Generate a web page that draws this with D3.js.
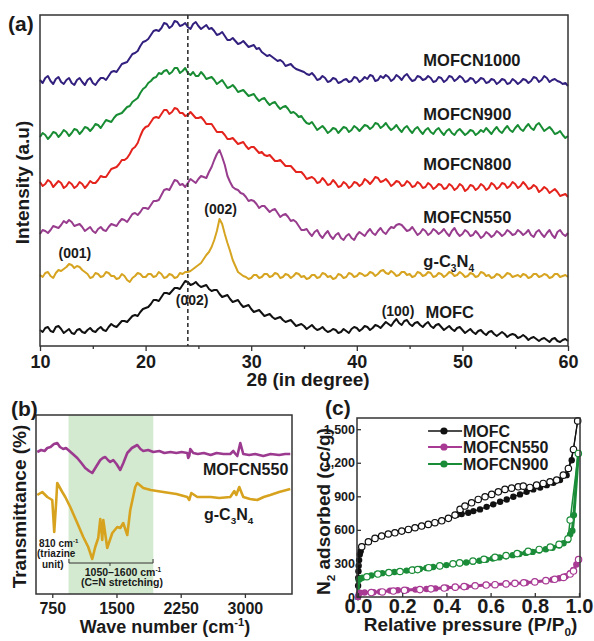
<!DOCTYPE html>
<html><head><meta charset="utf-8">
<script src="https://cdn.jsdelivr.net/npm/d3@7"></script>
<style>
body{margin:0;background:#fff}
svg{display:block}
text{font-family:"Liberation Sans",Arial,sans-serif;font-weight:bold;fill:#1a1a1a}
</style>
</head><body>
<svg id="chart" width="594" height="641"></svg>
<script>
// ---------------- DATA ----------------
// (a) XRD, 2theta grid every 0.25 degree from 10 to 60
const xrdTheta = d3.range(10, 60.001, 0.25);
const xrdTicks = [10, 20, 30, 40, 50, 60];
const xrdMinorTicks = [15, 25, 35, 45, 55];
const xrdMOFCN1000 = [266,263,268,270,265,262,267,269,264,262,266,268,263,261,266,268,264,261,266,268,263,261,265,268,268,266,270,274,275,274,278,282,283,284,288,292,293,295,300,304,305,307,311,315,316,315,318,323,322,318,320,325,324,320,321,323,319,317,322,324,320,317,319,321,317,318,315,311,312,314,310,306,306,308,305,302,303,305,302,299,300,301,297,298,294,292,290,291,289,287,285,286,284,280,281,282,279,277,276,275,274,272,271,273,270,266,267,270,268,264,265,268,267,263,264,266,267,264,265,269,268,264,266,269,267,271,270,265,266,270,268,271,269,265,267,271,269,266,270,272,268,265,266,270,269,266,267,270,268,264,265,269,268,264,266,270,269,265,267,270,268,264,265,268,267,263,265,268,267,263,264,267,266,262,264,267,266,262,263,267,265,262,264,267,266,263,265,269,268,264,266,270,268,264,266,267,265,264,262,263,260];
const xrdMOFCN900 = [209,213,211,207,210,214,213,209,212,216,214,210,213,217,216,212,215,219,218,215,218,222,221,218,222,226,225,224,228,231,232,233,236,239,240,244,246,248,253,257,259,263,265,268,269,273,272,275,276,272,274,278,278,273,275,278,273,271,274,270,270,274,271,267,268,269,266,262,264,266,262,258,259,261,258,254,255,256,253,250,251,252,248,245,247,248,244,241,243,244,240,237,239,240,237,233,234,232,229,230,226,223,222,224,220,216,218,220,217,213,215,218,217,213,216,219,218,214,216,220,218,215,218,221,220,217,219,223,222,218,220,223,219,216,218,221,217,214,218,220,216,213,217,219,215,212,216,218,214,212,216,218,214,211,215,217,213,211,215,217,214,211,213,216,215,211,213,216,214,218,215,212,216,219,215,213,217,220,216,214,218,221,217,215,219,222,218,216,221,223,219,215,217,219,216,212,213,215,211,208,210];
const xrdMOFCN800 = [164,160,162,166,164,159,162,165,163,158,160,164,162,158,160,164,162,158,161,165,163,163,166,170,169,169,173,177,178,179,182,186,186,188,192,197,199,203,210,216,219,220,224,228,229,228,232,236,236,232,234,238,237,233,233,230,231,234,231,228,228,229,226,222,222,222,218,214,214,214,211,207,207,208,205,202,203,204,200,197,199,199,196,193,194,191,190,191,188,185,185,186,183,180,180,180,177,174,174,174,171,167,168,169,167,163,164,168,165,161,162,166,163,159,160,164,162,158,160,164,163,160,162,167,165,162,165,169,168,164,165,167,164,160,162,165,164,160,161,165,163,159,160,164,162,158,159,163,161,157,159,162,161,157,158,162,160,156,158,162,160,155,157,161,160,156,158,162,160,156,158,163,161,157,159,163,162,158,160,164,162,158,160,164,161,157,158,161,159,154,156,159,157,153,155,157,154,150,151,152,149];
const xrdMOFCN550 = [112,116,115,113,116,120,119,118,121,125,123,126,124,120,121,122,119,115,117,119,115,113,117,119,116,115,119,122,121,120,124,127,126,124,128,132,133,131,134,138,138,137,141,145,145,146,151,156,157,156,161,166,165,161,162,159,163,167,165,163,167,170,169,168,174,179,186,192,196,189,181,170,164,159,157,156,153,152,149,145,146,145,142,138,140,140,137,134,136,137,133,129,131,132,129,125,126,124,120,116,116,117,113,110,114,116,111,108,112,115,110,107,111,113,108,106,110,112,108,106,111,114,112,110,114,117,113,111,115,118,114,112,116,119,118,121,122,121,118,115,116,119,115,111,113,117,115,111,113,117,115,112,114,117,113,110,115,118,113,110,112,116,114,110,111,115,112,108,110,114,112,109,111,115,113,110,112,116,114,111,112,116,114,111,113,116,111,109,114,116,112,109,113,116,111,108,114,116,112,110,113];
const xrdGC3N4 = [71,69,73,74,70,68,73,76,75,77,79,82,81,78,80,79,76,74,72,68,69,73,72,69,70,74,73,70,70,67,68,72,70,66,64,68,70,73,72,69,69,72,72,69,70,74,72,68,69,72,71,68,69,73,72,74,74,75,77,79,81,83,87,91,94,99,106,115,127,122,112,103,95,86,80,74,72,70,69,67,68,71,71,68,69,72,72,69,70,73,72,68,69,72,71,68,70,73,72,69,70,67,68,71,71,68,69,73,72,69,70,67,68,72,71,68,69,73,72,69,70,73,72,70,71,74,73,70,72,75,76,73,72,75,73,70,71,74,74,71,72,69,70,74,73,70,71,74,73,69,70,73,72,69,71,74,73,70,71,74,72,69,70,73,72,69,70,74,73,70,71,68,69,72,71,68,70,73,72,69,70,71,69,72,71,68,69,72,72,69,70,72,71,68,69,72,72,69,70,71,69];
const xrdMOFC = [16,14,18,19,15,14,19,20,17,13,15,17,13,12,16,17,14,13,16,18,15,14,17,19,16,15,19,22,20,19,22,25,25,24,27,30,31,30,34,37,38,39,42,46,46,45,49,53,53,52,55,58,58,57,61,65,64,61,62,64,61,59,60,61,57,55,56,56,52,49,50,51,47,44,45,46,42,39,40,41,37,34,35,36,33,30,31,32,29,27,28,29,26,24,25,26,23,20,21,22,20,17,19,21,18,16,17,19,16,14,15,17,16,13,14,17,15,13,17,19,18,15,17,20,19,16,18,21,20,18,21,24,22,20,24,27,23,21,25,26,22,20,23,24,21,19,22,24,20,18,21,22,19,16,18,20,17,15,18,19,16,13,15,17,14,12,15,16,13,11,14,15,12,10,12,14,12,9,11,12,11,8,9,11,9,6,8,9,7,5,7,8,6,4,7,8,5,4,6,7,5];
const xrdRefLine = 24.0;

// (b) FTIR
const ftirTicks = [750, 1500, 2250, 3000];
const ftirShade = [940, 1930];
const ftirMOFCN550_w = [575,620,660,692,730,770,808,840,878,910,937,990,1042,1090,1135,1180,1217,1260,1311,1340,1369,1400,1427,1462,1500,1544,1580,1626,1680,1743,1780,1813,1870,1930,2000,2060,2130,2200,2260,2327,2338,2350,2362,2397,2450,2520,2600,2670,2750,2829,2864,2890,2911,2946,2981,3050,3120,3215,3300,3400,3470,3530];
const ftirMOFCN550_t = [142,144,143,146,147,150,151,147,145,146,144,140,136,131,126,123,121,127,134,136,137,134,132,134,130,124,131,141,146,149,145,143,144,142,143,141,142,141,142,141,136,138,145,141,140,141,139,141,140,140,143,140,138,151,140,139,140,138,140,139,140,140];
const ftirGC3N4_w = [575,633,692,750,773,797,808,867,902,960,1042,1112,1170,1217,1252,1287,1311,1334,1346,1392,1451,1509,1544,1579,1626,1661,1719,1743,1813,1900,2046,2200,2327,2350,2374,2444,2600,2700,2829,2876,2899,2934,2981,3060,3144,3220,3296,3400,3530];
const ftirGC3N4_t = [99,102,97,94,62,94,111,102,97,87,71,57,47,35,47,56,75,54,74,46,61,67,66,71,59,84,107,111,106,104,102,100,97,94,101,97,97,96,97,103,99,107,97,95,94,97,99,102,105];

// (c) N2 isotherms
const betTicksX = [0, 0.2, 0.4, 0.6, 0.8, 1.0];
const betTicksY = [0, 300, 600, 900, 1200, 1500];
const mofcAdsP = [0,0.0005,0.001,0.002,0.003,0.005,0.008,0.012,0.017,0.047,0.077,0.107,0.137,0.167,0.198,0.228,0.258,0.288,0.318,0.348,0.379,0.409,0.447,0.469,0.499,0.522,0.552,0.582,0.612,0.643,0.673,0.703,0.733,0.763,0.793,0.824,0.854,0.884,0.914,0.944,0.967,0.994];
const mofcAdsV = [0,100,170,230,280,330,380,410,449,494,524,545,563,574,589,604,619,634,649,664,681,703,735,742,753,768,783,806,828,851,872,896,917,940,962,979,1000,1021,1045,1089,1223,1574];
const mofcDesP = [0.017,0.047,0.077,0.107,0.137,0.167,0.198,0.228,0.258,0.288,0.318,0.348,0.379,0.409,0.439,0.462,0.484,0.514,0.544,0.575,0.605,0.635,0.665,0.695,0.725,0.748,0.778,0.808,0.838,0.869,0.899,0.929,0.952,0.975,0.994];
const mofcDesV = [449,494,524,545,563,574,589,604,619,634,649,664,681,703,732,783,813,842,872,896,917,940,962,973,985,991,979,1000,1015,1030,1045,1089,1149,1319,1574];
const cn550AdsP = [0,0.003,0.009,0.03,0.07,0.1,0.145,0.18,0.22,0.26,0.31,0.35,0.4,0.44,0.49,0.53,0.58,0.62,0.67,0.71,0.76,0.8,0.85,0.88,0.91,0.94,0.96,0.975,0.988,0.998];
const cn550AdsV = [0,25,39,40,42,48,57,60,62,66,71,77,83,87,92,100,107,111,116,121,128,136,146,155,167,185,212,241,290,330];
const cn550DesP = [0.06,0.11,0.16,0.21,0.28,0.33,0.39,0.44,0.48,0.53,0.58,0.62,0.67,0.71,0.75,0.8,0.85,0.89,0.93,0.96,0.975,0.998];
const cn550DesV = [40,45,53,60,66,73,80,88,93,100,107,110,117,122,127,135,146,158,175,205,232,335];
const cn900AdsP = [0,0.003,0.01,0.02,0.04,0.06,0.085,0.11,0.137,0.165,0.19,0.22,0.25,0.28,0.31,0.34,0.37,0.40,0.43,0.46,0.49,0.52,0.55,0.58,0.61,0.64,0.67,0.70,0.73,0.76,0.79,0.82,0.85,0.88,0.91,0.93,0.95,0.96,0.97,0.977,0.997];
const cn900AdsV = [0,152,163,172,182,193,205,213,220,224,228,236,243,251,259,268,276,285,294,301,308,315,324,333,344,354,364,374,384,394,403,415,427,440,460,480,510,560,592,732,1283];
const cn900DesP = [0.04,0.09,0.14,0.19,0.245,0.27,0.32,0.37,0.43,0.46,0.52,0.57,0.62,0.67,0.72,0.77,0.82,0.87,0.91,0.95,0.96,0.997];
const cn900DesV = [181,205,218,228,240,245,262,278,297,305,322,337,355,370,388,408,425,447,470,520,688,1283];

// ---------------- HELPERS ----------------
const svg = d3.select('#chart');
const FRAME = '#333';
function rich(t, parts, size) {
  let shift = 0;
  parts.forEach(([s, kind]) => {
    const target = kind === 'sub' ? size * 0.28 : kind === 'sup' ? -size * 0.38 : 0;
    const ts = t.append('tspan').text(s).attr('dy', target - shift);
    shift = target;
    if (kind) ts.attr('font-size', size * 0.62);
  });
  return t;
}
function label(g, x, y, parts, size, anchor, rotate) {
  const t = g.append('text').attr('font-size', size).attr('text-anchor', anchor || 'start');
  if (rotate) t.attr('transform', `translate(${x},${y}) rotate(-90)`);
  else t.attr('x', x).attr('y', y);
  return rich(t, typeof parts === 'string' ? [[parts]] : parts, size);
}
function styleAxis(g, size) {
  g.select('.domain').remove();
  g.selectAll('line').attr('stroke', FRAME).attr('stroke-width', 1.3);
  g.selectAll('text').attr('font-size', size).attr('fill', '#1a1a1a')
    .style('font-family', '"Liberation Sans",Arial,sans-serif').style('font-weight', 'bold');
}

// ---------------- PANEL (a) ----------------
{
  const L = 40, R = 568, T = 15, B = 346;
  const x = d3.scaleLinear().domain([10, 60]).range([L, R]);
  const y = d3.scaleLinear().domain([0, 331]).range([B, T]);
  const g = svg.append('g');
  const series = [
    {name: [['MOFCN1000']], v: xrdMOFCN1000, c: '#33207e', lx: 46.3, ly: 280},
    {name: [['MOFCN900']], v: xrdMOFCN900, c: '#178c33', lx: 46.3, ly: 226},
    {name: [['MOFCN800']], v: xrdMOFCN800, c: '#e4231d', lx: 46.3, ly: 176},
    {name: [['MOFCN550']], v: xrdMOFCN550, c: '#983c8e', lx: 46.3, ly: 123},
    {name: [['g-C'], ['3', 'sub'], ['N'], ['4', 'sub']], v: xrdGC3N4, c: '#d6a421', lx: 46.3, ly: 79},
    {name: [['MOFC']], v: xrdMOFC, c: '#111111', lx: 46.5, ly: 28}
  ];
  const line = d3.line().x((d, i) => x(xrdTheta[i])).y(d => y(d));
  series.forEach(s => {
    g.append('path').datum(s.v).attr('d', line).attr('fill', 'none')
      .attr('stroke', s.c).attr('stroke-width', 2).attr('stroke-linejoin', 'round');
  });
  g.append('line').attr('x1', x(xrdRefLine)).attr('x2', x(xrdRefLine)).attr('y1', T).attr('y2', B)
    .attr('stroke', '#333').attr('stroke-width', 1.6).attr('stroke-dasharray', '4,3');
  g.append('rect').attr('x', L).attr('y', T).attr('width', R - L).attr('height', B - T)
    .attr('fill', 'none').attr('stroke', FRAME).attr('stroke-width', 1.5);
  const ax = g.append('g').attr('transform', `translate(0,${B})`)
    .call(d3.axisBottom(x).tickValues(xrdTicks).tickSize(5).tickPadding(4));
  styleAxis(ax, 18);
  const axm = g.append('g').attr('transform', `translate(0,${B})`)
    .call(d3.axisBottom(x).tickValues(xrdMinorTicks).tickSize(3).tickFormat(''));
  styleAxis(axm, 10);
  series.forEach(s => label(g, x(s.lx), y(s.ly), s.name, 16.5));
  label(g, x(13.3), y(88), '(001)', 14, 'middle');
  label(g, x(27.1), y(132), '(002)', 14, 'middle');
  label(g, x(24.4), y(41), '(002)', 14, 'middle');
  label(g, x(43.9), y(30), '(100)', 14, 'middle');
  label(g, (L + R) / 2 + 4, 386, '2θ (in degree)', 19, 'middle');
  label(g, 29, (T + B) / 2 + 2, 'Intensity (a.u)', 19, 'middle', true);
  label(g, 8, 31, '(a)', 21);
}

// ---------------- PANEL (b) ----------------
{
  const L = 36, R = 292, T = 415, B = 594;
  const x = d3.scaleLinear().domain([560, 3550]).range([L, R]);
  const y = d3.scaleLinear().domain([0, 179]).range([B, T]);
  const g = svg.append('g');
  g.append('rect').attr('x', x(ftirShade[0])).attr('y', T).attr('width', x(ftirShade[1]) - x(ftirShade[0]))
    .attr('height', B - T).attr('fill', '#d4ead0');
  const series = [
    {w: ftirMOFCN550_w, t: ftirMOFCN550_t, c: '#9b3a8f'},
    {w: ftirGC3N4_w, t: ftirGC3N4_t, c: '#d7a31f'}
  ];
  series.forEach(s => {
    const line = d3.line().x((d, i) => x(s.w[i])).y(d => y(d));
    g.append('path').datum(s.t).attr('d', line).attr('fill', 'none')
      .attr('stroke', s.c).attr('stroke-width', 2.6).attr('stroke-linejoin', 'round');
  });
  g.append('rect').attr('x', L).attr('y', T).attr('width', R - L).attr('height', B - T)
    .attr('fill', 'none').attr('stroke', FRAME).attr('stroke-width', 1.5);
  const ax = g.append('g').attr('transform', `translate(0,${B})`)
    .call(d3.axisBottom(x).tickValues(ftirTicks).tickSize(4).tickPadding(5).tickFormat(d3.format('d')));
  styleAxis(ax, 16);
  label(g, x(2510), y(119), 'MOFCN550', 16);
  label(g, x(2522), y(74), [['g-C'], ['3', 'sub'], ['N'], ['4', 'sub']], 16);
  label(g, x(595), y(47), [['810 cm'], ['-1', 'sup']], 10);
  label(g, x(572), y(37), '(triazine', 10);
  label(g, x(630), y(26), 'unit)', 10);
  // bracket
  const bp = d3.path();
  bp.moveTo(x(945), y(35)); bp.lineTo(x(945), y(31)); bp.lineTo(x(1927), y(31)); bp.lineTo(x(1927), y(35));
  bp.moveTo(x(1424), y(31)); bp.lineTo(x(1424), y(28));
  g.append('path').attr('d', bp.toString()).attr('fill', 'none').attr('stroke', '#333').attr('stroke-width', 1);
  label(g, x(1576), y(18), [['1050–1600 cm'], ['-1', 'sup']], 10.5, 'middle');
  label(g, x(1564), y(8), '(C=N stretching)', 10.5, 'middle');
  label(g, (L + R) / 2 + 1, 633, [['Wave number (cm'], ['-1', 'sup'], [')']], 18, 'middle');
  label(g, 26, (T + B) / 2 + 2, 'Transmittance (%)', 19, 'middle', true);
  label(g, 11, 416, '(b)', 21);
}

// ---------------- PANEL (c) ----------------
{
  const L = 357, R = 580, T = 418, B = 597;
  const x = d3.scaleLinear().domain([0, 1]).range([358, 579]);
  const y = d3.scaleLinear().domain([0, 1600]).range([B, T]);
  const g = svg.append('g');
  const series = [
    {name: 'MOFC', c: '#111111', lw: 1.2, aP: mofcAdsP, aV: mofcAdsV, dP: mofcDesP, dV: mofcDesV},
    {name: 'MOFCN550', c: '#a83a94', lw: 3, aP: cn550AdsP, aV: cn550AdsV, dP: cn550DesP, dV: cn550DesV},
    {name: 'MOFCN900', c: '#1a8c38', lw: 3, aP: cn900AdsP, aV: cn900AdsV, dP: cn900DesP, dV: cn900DesV}
  ];
  const drawOrder = [series[0], series[2], series[1]];
  drawOrder.forEach(s => {
    const la = d3.line().x((d, i) => x(s.aP[i])).y(d => y(d));
    const ld = d3.line().x((d, i) => x(s.dP[i])).y(d => y(d));
    g.append('path').datum(s.aV).attr('d', la).attr('fill', 'none').attr('stroke', s.c).attr('stroke-width', s.lw);
    g.append('path').datum(s.dV).attr('d', ld).attr('fill', 'none').attr('stroke', s.c).attr('stroke-width', s.lw === 3 ? 1.5 : s.lw);
    g.selectAll(null).data(s.aV).enter().append('circle')
      .attr('cx', (d, i) => x(s.aP[i])).attr('cy', d => y(d)).attr('r', 3.2).attr('fill', s.c);
    g.selectAll(null).data(s.dV).enter().append('circle')
      .attr('cx', (d, i) => x(s.dP[i])).attr('cy', d => y(d)).attr('r', 3.2)
      .attr('fill', '#fff').attr('stroke', s.c).attr('stroke-width', 1.2);
  });
  g.append('rect').attr('x', L).attr('y', T).attr('width', R - L).attr('height', B - T)
    .attr('fill', 'none').attr('stroke', FRAME).attr('stroke-width', 1.5);
  const axx = g.append('g').attr('transform', `translate(0,${B})`)
    .call(d3.axisBottom(x).tickValues(betTicksX).tickSize(-4).tickPadding(2).tickFormat(d3.format('.1f')));
  styleAxis(axx, 20);
  const axy = g.append('g').attr('transform', `translate(${L},0)`)
    .call(d3.axisLeft(y).tickValues(betTicksY).tickSize(-4).tickPadding(2));
  styleAxis(axy, 12.5);
  // legend
  const legV = [1484, 1341, 1189];
  series.forEach((s, i) => {
    g.append('line').attr('x1', x(0.317)).attr('x2', x(0.471)).attr('y1', y(legV[i])).attr('y2', y(legV[i]))
      .attr('stroke', s.c).attr('stroke-width', s.lw === 3 ? 2.2 : 1.3);
    g.append('circle').attr('cx', x(0.389)).attr('cy', y(legV[i])).attr('r', 3.6).attr('fill', s.c);
    label(g, x(0.475), y(legV[i]) + 6, s.name, 16);
  });
  label(g, (L + R) / 2 + 2, 631, [['Relative pressure (P/P'], ['0', 'sub'], [')']], 19, 'middle');
  label(g, 330, (T + B) / 2 + 4, [['N'], ['2', 'sub'], [' adsorbed (cc/g)']], 19, 'middle', true);
  label(g, 325, 415, '(c)', 21);
}
</script>
</body></html>
